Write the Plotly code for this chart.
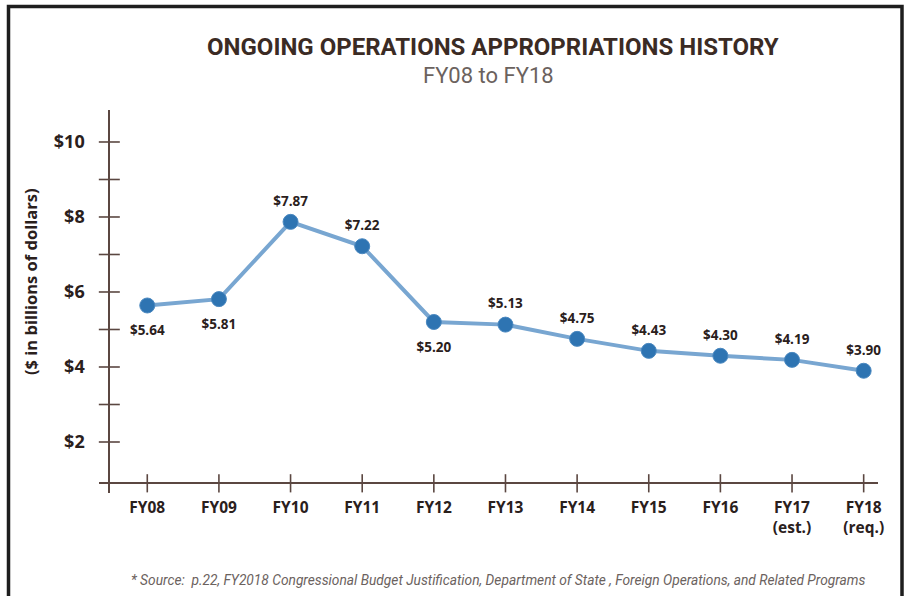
import plotly.graph_objects as go

# ---- data ----
categories = ["FY08", "FY09", "FY10", "FY11", "FY12", "FY13", "FY14", "FY15", "FY16", "FY17<br>(est.)", "FY18<br>(req.)"]
values = [5.64, 5.81, 7.87, 7.22, 5.20, 5.13, 4.75, 4.43, 4.30, 4.19, 3.90]
value_labels = ["$5.64", "$5.81", "$7.87", "$7.22", "$5.20", "$5.13", "$4.75", "$4.43", "$4.30", "$4.19", "$3.90"]
label_below = [True, True, False, False, True, False, False, False, False, False, False]
y_tick_vals = [2, 4, 6, 8, 10]
y_tick_text = ["$2", "$4", "$6", "$8", "$10"]
y_minor_vals = [2, 3, 4, 5, 6, 7, 8, 9, 10]

# ---- layout constants (pixels) ----
W, H = 904, 596
L, R, T, B = 99, 26, 110, 103
pw, ph = W - L - R, H - T - B
X_RANGE = [-0.674, 10.20]
Y_RANGE = [0.64, 10.853]
X_CROSS = -0.530   # x value where the y-axis sits
Y_CROSS = 0.899    # y value where the x-axis sits

axis_col = "#5b4741"
text_col = "#2a201c"
idx = list(range(len(categories)))

def px_to_paper_x(px):
    return (px - L) / pw

def px_to_paper_y(py):
    return (H - B - py) / ph

fig = go.Figure()

# main line
fig.add_trace(go.Scatter(
    x=idx, y=values, mode="lines+markers",
    line=dict(color="#78a6d1", width=4),
    marker=dict(size=15, color="#2e74b2", line=dict(color="#4a88c0", width=1)),
    cliponaxis=False, hoverinfo="skip", showlegend=False,
))

lab_font = dict(family="Open Sans", size=13.5, color=text_col, weight="bold")
# value labels above the points
top_i = [i for i in idx if not label_below[i]]
fig.add_trace(go.Scatter(
    x=top_i, y=[values[i] for i in top_i], mode="markers+text",
    marker=dict(size=19, color="rgba(0,0,0,0)"),
    text=[value_labels[i] for i in top_i], textposition="top center", textfont=lab_font,
    cliponaxis=False, hoverinfo="skip", showlegend=False,
))
# value labels below the points
bot_i = [i for i in idx if label_below[i]]
fig.add_trace(go.Scatter(
    x=bot_i, y=[values[i] for i in bot_i], mode="markers+text",
    marker=dict(size=30, color="rgba(0,0,0,0)"),
    text=[value_labels[i] for i in bot_i], textposition="bottom center", textfont=lab_font,
    cliponaxis=False, hoverinfo="skip", showlegend=False,
))

# crossing tick marks on x-axis
fig.add_trace(go.Scatter(
    x=idx, y=[Y_CROSS] * len(idx), mode="markers",
    marker=dict(symbol="line-ns", size=13, line=dict(color=axis_col, width=1.6)),
    cliponaxis=False, hoverinfo="skip", showlegend=False,
))
# crossing tick marks on y-axis
fig.add_trace(go.Scatter(
    x=[X_CROSS] * len(y_minor_vals), y=y_minor_vals, mode="markers",
    marker=dict(symbol="line-ew", size=15, line=dict(color=axis_col, width=1.6)),
    cliponaxis=False, hoverinfo="skip", showlegend=False,
))

fig.update_layout(
    width=W, height=H,
    margin=dict(l=L, r=R, t=T, b=B),
    paper_bgcolor="white", plot_bgcolor="white",
    xaxis=dict(
        range=X_RANGE, tickmode="array", tickvals=idx, ticktext=categories,
        showgrid=False, zeroline=False, showline=True, linecolor=axis_col, linewidth=2,
        anchor="free", position=px_to_paper_y(483.3), ticks="",
        ticklabelstandoff=10,
        tickfont=dict(family="Open Sans", size=15.5, color=text_col, weight="bold"),
    ),
    yaxis=dict(
        range=Y_RANGE, tickmode="array", tickvals=y_tick_vals, ticktext=y_tick_text,
        showgrid=False, zeroline=False, showline=True, linecolor=axis_col, linewidth=2,
        anchor="free", position=px_to_paper_x(109.3), ticks="",
        ticklabelstandoff=20,
        tickfont=dict(family="Open Sans", size=18, color=text_col, weight="bold"),
    ),
    annotations=[
        dict(text="<b>ONGOING OPERATIONS APPROPRIATIONS HISTORY</b>", xref="paper", yref="paper",
             x=px_to_paper_x(493), y=px_to_paper_y(47), showarrow=False,
             xanchor="center", yanchor="middle",
             font=dict(family="Roboto", size=24, color="#3b2b24")),
        dict(text="FY08 to FY18", xref="paper", yref="paper",
             x=px_to_paper_x(488), y=px_to_paper_y(75), showarrow=False,
             xanchor="center", yanchor="middle",
             font=dict(family="Roboto", size=22, color="#6b625e")),
        dict(text="($ in billions of dollars)", xref="paper", yref="paper",
             x=px_to_paper_x(30), y=px_to_paper_y(282), showarrow=False, textangle=-90,
             xanchor="center", yanchor="middle",
             font=dict(family="Open Sans", size=16.5, color=text_col, weight="bold")),
        dict(text="<i>* Source:  p.22, FY2018 Congressional Budget Justification, Department of State , Foreign Operations, and Related Programs</i>",
             xref="paper", yref="paper",
             x=px_to_paper_x(498), y=px_to_paper_y(580), showarrow=False,
             xanchor="center", yanchor="middle",
             font=dict(family="Roboto", size=13.75, color="#6b625e")),
    ],
    shapes=[
        dict(type="path", xref="paper", yref="paper",
             path=(f"M {px_to_paper_x(8.5)} {px_to_paper_y(620)} "
                   f"L {px_to_paper_x(8.5)} {px_to_paper_y(6.5)} "
                   f"L {px_to_paper_x(902)} {px_to_paper_y(6.5)} "
                   f"L {px_to_paper_x(902)} {px_to_paper_y(620)}"),
             line=dict(color="#1e1e1e", width=3.5)),
    ],
)

fig.write_html("out.html", config={"displayModeBar": False},
               post_script="document.body.style.margin='0px';document.body.style.overflow='hidden';")
